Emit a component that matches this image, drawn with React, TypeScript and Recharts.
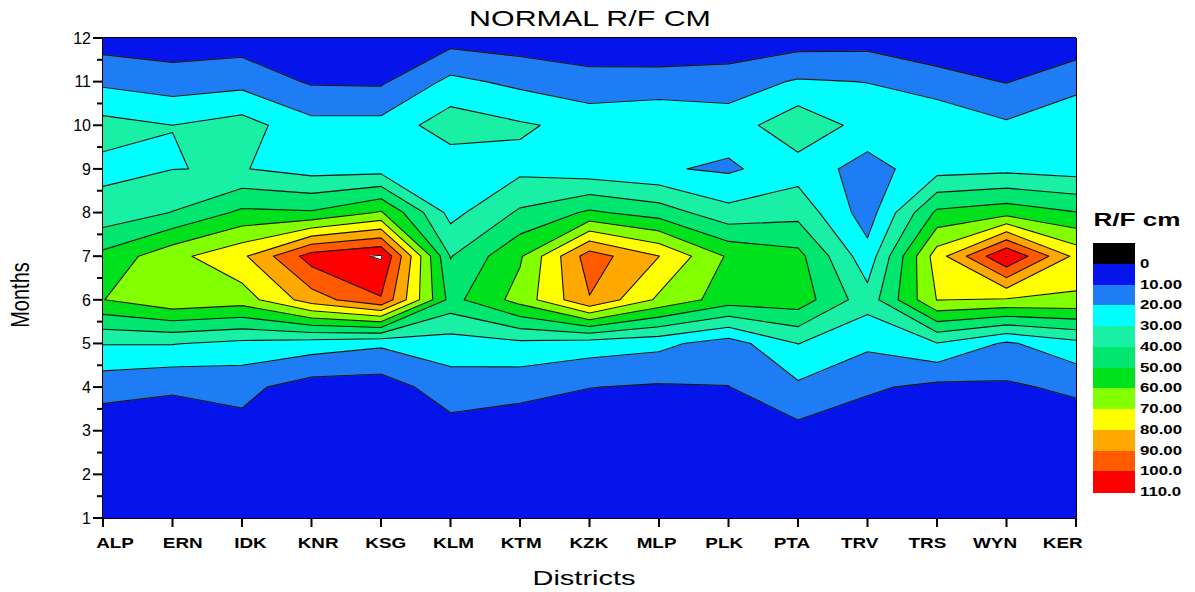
import React from 'react';
import { ScatterChart, Scatter, XAxis, YAxis, ReferenceLine } from 'recharts';

// ---------- data (normal monthly rainfall, cm) ----------
const districts = ['ALP', 'ERN', 'IDK', 'KNR', 'KSG', 'KLM', 'KTM', 'KZK', 'MLP', 'PLK', 'PTA', 'TRV', 'TRS', 'WYN', 'KER'];
const monthTicks = [1, 2, 3, 4, 5, 6, 7, 8, 9, 10, 11, 12];

const ALP = [1.5, 2.2, 3.8, 13.8, 30.5, 59.8, 52.8, 33.3, 27.8, 33.4, 18, 5.1];
const ERN = [1.2, 2.5, 5.0, 11.1, 30.5, 68, 66.9, 40.3, 29.85, 30.03, 14.8, 3.9];
const IDK = [1.5, 3, 7.3, 12.5, 27.5, 65, 78, 52, 30.5, 34.2, 16.7, 4.7];
const KNR = [0.8, 1.2, 2.0, 5.5, 25, 85, 104.6, 51, 26, 23.1, 8.8, 2.5];
const KSG = [0.5, 1, 1.5, 5, 21.7, 99, 111, 61, 26, 23.2, 8.5, 2];
const KLM = [1.5, 2.5, 6.3, 15.3, 25.3, 46.6, 39.5, 26.7, 22.9, 35.6, 22.5, 6];
const KTM = [1.5, 3, 4.2, 13.4, 27.7, 63.8, 58.7, 41.5, 27.5, 31.2, 17.6, 4.4];
const KZK = [1, 1, 3, 10.2, 24.9, 89.4, 95.1, 51.6, 23.5, 27.1, 12.9, 4.4];
const MLP = [1, 1.5, 2.5, 8.9, 22.6, 68, 80.1, 45.4, 21, 28.6, 14, 2.2];
const PLK = [0.5, 1, 2.5, 9.8, 15.2, 55, 58.6, 33.2, 18.5, 24.5, 15.5, 2];
const PTA = [1.5, 3.5, 7.3, 18.2, 30.2, 55.6, 53.1, 36.7, 25.5, 37.3, 21, 5];
const TRV = [2, 2.5, 4, 11.5, 22, 34.1, 23.6, 15, 16, 26.1, 19.8, 5.8];
const TRS = [1, 1.5, 3, 7.5, 29.6, 70.3, 75.2, 52, 26, 29.4, 13.5, 3.5];
const WYN = [0.5, 1, 2.5, 8.5, 18.5, 69, 110.3, 56, 27.4, 21.5, 9.6, 2.5];
const KER = [1.2, 1.6, 4, 12, 27, 68.2, 77, 50.4, 25.5, 29, 16, 4];

const columns = [ALP, ERN, IDK, KNR, KSG, KLM, KTM, KZK, MLP, PLK, PTA, TRV, TRS, WYN, KER];

// contour levels and colours
const levels = [0, 10, 20, 30, 40, 50, 60, 70, 80, 90, 100, 110];
const bandColors = ['#0514EB', '#1E7DF5', '#00FFFF', '#19F0A5', '#00E66E', '#00E11E', '#82FF00', '#FFFF00', '#FFA800', '#FF5A00', '#FF0000'];
const aboveColor = '#FFFFFF';
const belowColor = '#000000';

// ---------- cell-by-cell contouring (linear interpolation on cell edges) ----------
type P = { x: number; y: number; v: number; cut: boolean };
const pt = (i: number, j: number): P => ({ x: i, y: monthTicks[j], v: columns[i][j], cut: false });

const cells: P[][] = [];
for (let i = 0; i < columns.length - 1; i++) {
  for (let j = 0; j < monthTicks.length - 1; j++) {
    cells.push([pt(i, j), pt(i + 1, j), pt(i + 1, j + 1), pt(i, j + 1)]);
  }
}

const lerp = (a: P, b: P, L: number): P => {
  const t = (L - a.v) / (b.v - a.v);
  return { x: a.x + t * (b.x - a.x), y: a.y + t * (b.y - a.y), v: L, cut: true };
};

const clipAbove = (poly: P[], L: number): P[] => {
  const out: P[] = [];
  for (let k = 0; k < poly.length; k++) {
    const a = poly[k], b = poly[(k + 1) % poly.length];
    const ain = a.v >= L, bin = b.v >= L;
    if (ain) out.push(a);
    if (ain !== bin) out.push(lerp(a, b, L));
  }
  return out;
};

const xMax = columns.length - 1;
const yMin = monthTicks[0];
const yMax = monthTicks[monthTicks.length - 1];

const fillLayers = levels.map((L, k) => {
  const next = levels[k + 1];
  const polys: { x: number; y: number }[][] = [];
  if (k === 0) {
    polys.push([{ x: 0, y: yMin }, { x: xMax, y: yMin }, { x: xMax, y: yMax }, { x: 0, y: yMax }]);
  } else {
    for (const cell of cells) {
      const vs = cell.map((p) => p.v);
      const mx = Math.max(...vs), mn = Math.min(...vs);
      if (mx < L) continue;
      if (next !== undefined && mn >= next) continue;
      const c = clipAbove(cell, L);
      if (c.length >= 3) polys.push(c.map((p) => ({ x: p.x, y: p.y })));
    }
  }
  return {
    color: k < bandColors.length ? bandColors[k] : aboveColor,
    sizes: polys.map((p) => p.length),
    data: polys.flat(),
  };
});

const segData: { x: number; y: number }[] = [];
for (const L of levels.slice(1)) {
  for (const cell of cells) {
    const c = clipAbove(cell, L);
    for (let k = 0; k < c.length; k++) {
      const a = c[k], b = c[(k + 1) % c.length];
      if (a.cut && b.cut) segData.push({ x: a.x, y: a.y }, { x: b.x, y: b.y });
    }
  }
}

// ---------- renderers ----------
const Empty = () => <g />;

const makeFill = (sizes: number[], color: string) => (props: any) => {
  const pts = (props.points || []) as { x: number; y: number }[];
  let d = '';
  let k = 0;
  for (const n of sizes) {
    for (let j = 0; j < n; j++) {
      const p = pts[k + j];
      if (!p) continue;
      d += (j === 0 ? 'M' : 'L') + p.x.toFixed(2) + ',' + p.y.toFixed(2);
    }
    d += 'Z';
    k += n;
  }
  return <path d={d} fill={color} stroke={color} strokeWidth={0.9} strokeLinejoin="round" />;
};

const renderSegments = (props: any) => {
  const pts = (props.points || []) as { x: number; y: number }[];
  let d = '';
  for (let k = 0; k + 1 < pts.length; k += 2) {
    d += 'M' + pts[k].x.toFixed(2) + ',' + pts[k].y.toFixed(2) + 'L' + pts[k + 1].x.toFixed(2) + ',' + pts[k + 1].y.toFixed(2);
  }
  return <path d={d} fill="none" stroke="#141414" strokeWidth={1.1} strokeLinecap="round" />;
};

const FONT = '"Liberation Sans", Arial, Helvetica, sans-serif';

const YTick = (props: any) => {
  const { x, y, payload } = props;
  const v = payload.value as number;
  const major = Number.isInteger(v);
  return (
    <g>
      <line x1={x - (major ? 10 : 6)} x2={x} y1={y} y2={y} stroke="#000" strokeWidth={2} />
      {major && (
        <text x={x - 12} y={y} dy="0.36em" textAnchor="end" fontSize={16} fontFamily={FONT} fill="#000">
          {v}
        </text>
      )}
    </g>
  );
};

// district labels sit on a slightly narrower spacing than the ticks (as in the original figure)
const labelFirst = 0.173; // position of first label, in district units
const labelStep = 0.974; // spacing of labels, in district units

const XTick = (props: any) => {
  const { x, y, payload } = props;
  const i = payload.value as number;
  const w = typeof props.width === 'number' && props.width > 100 ? props.width : 973;
  const unit = w / xMax;
  const shift = (labelFirst + i * labelStep - i) * unit;
  return (
    <g>
      <line x1={x} x2={x} y1={y} y2={y + 9} stroke="#000" strokeWidth={2} />
      <text
        transform={`translate(${x + shift},${y + 30}) scale(1.35,1)`}
        textAnchor="middle"
        fontSize={14}
        fontWeight="bold"
        fontFamily={FONT}
        fill="#000"
      >
        {districts[i] ?? ''}
      </text>
    </g>
  );
};

const yTicks: number[] = [];
monthTicks.forEach((m, i) => {
  yTicks.push(m);
  if (i < monthTicks.length - 1) yTicks.push(m + 0.5);
});
const xTicks = districts.map((_, i) => i);

const legendColors = [belowColor, ...bandColors];
const legendLabels = levels.map((v) => (v === 0 ? '0' : v < 100 ? v.toFixed(2) : v.toFixed(1)));

// ---------- component ----------
export default function App() {
  const W = 1187;
  const H = 584;
  const box = 20.75;
  return (
    <div style={{ position: 'relative', width: W, height: H, fontFamily: FONT, background: '#fff' }}>
      <ScatterChart width={W} height={H} margin={{ top: 30, right: 119, bottom: 0, left: 0 }}>
        <XAxis
          dataKey="x"
          type="number"
          domain={[0, xMax]}
          allowDataOverflow
          ticks={xTicks}
          interval={0}
          tick={XTick}
          tickSize={0}
          tickMargin={0}
          tickLine={false}
          axisLine={{ stroke: '#000', strokeWidth: 2 }}
          height={74}
        />
        <YAxis
          dataKey="y"
          type="number"
          domain={[yMin, yMax]}
          allowDataOverflow
          ticks={yTicks}
          interval={0}
          tick={YTick}
          tickSize={0}
          tickMargin={0}
          tickLine={false}
          axisLine={{ stroke: '#000', strokeWidth: 2 }}
          width={95}
        />
        {fillLayers.map((layer, k) => (
          <Scatter
            key={'f' + k}
            data={layer.data}
            line={makeFill(layer.sizes, layer.color)}
            shape={Empty}
            isAnimationActive={false}
            legendType="none"
          />
        ))}
        <Scatter data={segData} line={renderSegments} shape={Empty} isAnimationActive={false} legendType="none" />
        <ReferenceLine y={yMax} stroke="#000" strokeWidth={2} />
        <ReferenceLine x={xMax} stroke="#000" strokeWidth={2} />
        <ReferenceLine y={yMin} stroke="#000" strokeWidth={2} />
        <ReferenceLine x={0} stroke="#000" strokeWidth={2} />
      </ScatterChart>

      {/* title */}
      <div
        style={{
          position: 'absolute', left: 582, top: 11, transform: 'translate(-50%,-50%) scaleX(1.38)',
          fontSize: 22, lineHeight: 1, whiteSpace: 'nowrap', color: '#000',
        }}
      >
        NORMAL R/F CM
      </div>
      {/* y axis title */}
      <div
        style={{
          position: 'absolute', left: 12, top: 287, transform: 'translate(-50%,-50%) rotate(-90deg) scaleY(1.3)',
          fontSize: 20, lineHeight: 1, whiteSpace: 'nowrap', color: '#000',
        }}
      >
        Months
      </div>
      {/* x axis title */}
      <div
        style={{
          position: 'absolute', left: 576, top: 570, transform: 'translate(-50%,-50%) scaleX(1.45)',
          fontSize: 20, lineHeight: 1, whiteSpace: 'nowrap', color: '#000',
        }}
      >
        Districts
      </div>
      {/* colour scale legend */}
      <div
        style={{
          position: 'absolute', left: 1129, top: 212, transform: 'translate(-50%,-50%) scaleX(1.45)',
          fontSize: 18, fontWeight: 'bold', lineHeight: 1, whiteSpace: 'nowrap', color: '#000',
        }}
      >
        R/F cm
      </div>
      <div style={{ position: 'absolute', left: 1085, top: 235 }}>
        {legendColors.map((c, i) => (
          <div
            key={'b' + i}
            style={{ position: 'absolute', left: 0, top: i * box, width: 42, height: box + 0.5, background: c }}
          />
        ))}
        {legendLabels.map((t, i) => (
          <div
            key={'l' + i}
            style={{
              position: 'absolute', left: 47, top: (i + 1) * box, transform: 'translateY(-50%) scaleX(1.4)',
              transformOrigin: 'left center', fontSize: 12, fontWeight: 'bold', lineHeight: 1, whiteSpace: 'nowrap', color: '#000',
            }}
          >
            {t}
          </div>
        ))}
      </div>
    </div>
  );
}
